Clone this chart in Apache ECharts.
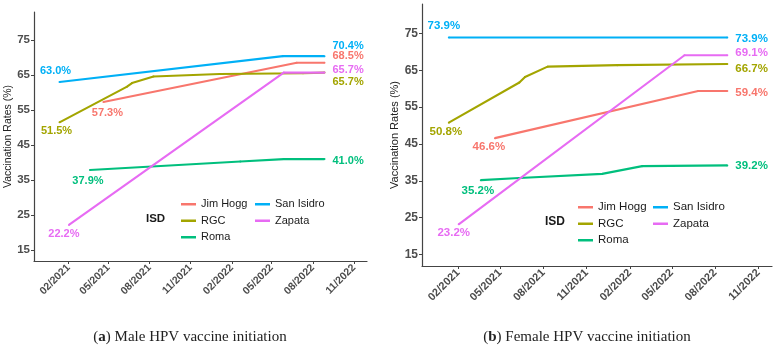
<!DOCTYPE html>
<html>
<head>
<meta charset="utf-8">
<script src="https://cdn.jsdelivr.net/npm/echarts@6/dist/echarts.min.js"></script>
<style>
html,body{margin:0;padding:0;background:#fff;}
#c{width:776px;height:354px;}
</style>
</head>
<body>
<div id="c"></div>
<script>
// ---------- DATA ----------
const isdNames = ['Jim Hogg', 'RGC', 'Roma', 'San Isidro', 'Zapata'];
const yTicks = [15, 25, 35, 45, 55, 65, 75];
const xTickDates = ['2021-02-01','2021-05-01','2021-08-01','2021-11-01','2022-02-01','2022-05-01','2022-08-01','2022-11-01'];

// Male HPV vaccine initiation (panel a): [date, rate %]
const maleJimHogg   = [['2021-04-20', 57.3], ['2022-06-26', 68.5], ['2022-08-27', 68.5]];
const maleRGC       = [['2021-01-12', 51.5], ['2021-06-11', 61.6], ['2021-06-23', 62.7], ['2021-08-10', 64.6], ['2022-01-05', 65.3], ['2022-07-10', 65.5], ['2022-08-27', 65.7]];
const maleRoma      = [['2021-03-21', 37.9], ['2022-02-20', 40.3], ['2022-05-28', 41.0], ['2022-08-27', 41.0]];
const maleSanIsidro = [['2021-01-12', 63.0], ['2022-05-26', 70.4], ['2022-08-27', 70.4]];
const maleZapata    = [['2021-02-02', 22.2], ['2022-05-28', 65.7], ['2022-08-27', 65.7]];

// Female HPV vaccine initiation (panel b)
const femaleJimHogg   = [['2021-04-20', 46.6], ['2022-06-26', 59.4], ['2022-08-27', 59.4]];
const femaleRGC       = [['2021-01-12', 50.8], ['2021-06-11', 61.7], ['2021-06-23', 63.2], ['2021-08-10', 66.0], ['2022-01-05', 66.4], ['2022-08-27', 66.7]];
const femaleRoma      = [['2021-03-21', 35.2], ['2021-06-11', 35.8], ['2021-12-04', 36.9], ['2022-02-27', 39.0], ['2022-08-27', 39.2]];
const femaleSanIsidro = [['2021-01-12', 73.9], ['2022-08-27', 73.9]];
const femaleZapata    = [['2021-02-02', 23.2], ['2022-05-28', 69.1], ['2022-08-27', 69.1]];

const captionA = 'Male HPV vaccine initiation';
const captionB = 'Female HPV vaccine initiation';
const legendTitle = 'ISD';
const yAxisName = 'Vaccination Rates (%)';

// ---------- STYLE ----------
const colors = {'Jim Hogg':'#F8766D','RGC':'#A3A500','Roma':'#00BF7D','San Isidro':'#00B0F6','Zapata':'#E76BF3'};
const labelStyle = [
  { fs: 11,
    start: {'Jim Hogg':[4,11],'RGC':[-3,9],'Roma':[-2,11],'San Isidro':[-4,-11],'Zapata':[-5,9]},
    end:   {'Jim Hogg':-7,'RGC':9,'Roma':2,'San Isidro':-10,'Zapata':-3} },
  { fs: 11.5,
    start: {'Jim Hogg':[-6,9],'RGC':[-3,9],'Roma':[-3,11],'San Isidro':[-5,-12],'Zapata':[-5,8]},
    end:   {'Jim Hogg':2,'RGC':5,'Roma':0,'San Isidro':1,'Zapata':-2} }
];

function ts(s){ const p = s.split('-'); return new Date(+p[0], +p[1]-1, +p[2]).getTime(); }
function fmtDate(v){ const d = new Date(v + 43200000); const m = d.getMonth()+1; return (m<10?'0':'')+m+'/'+d.getFullYear(); }

const panels = [
  [maleJimHogg, maleRGC, maleRoma, maleSanIsidro, maleZapata],
  [femaleJimHogg, femaleRGC, femaleRoma, femaleSanIsidro, femaleZapata]
];

const series = [];
panels.forEach((sets, gi) => {
  const st = labelStyle[gi];
  sets.forEach((pts, si) => {
    const name = isdNames[si];
    const col = colors[name];
    const data = pts.map((p, i) => {
      const item = { value: [ts(p[0]), p[1]] };
      if (i === 0) {
        item.label = { show: true, position: 'inside', offset: st.start[name] };
      } else if (i === pts.length - 1) {
        item.label = { show: true, position: 'right', distance: 7, offset: [0, st.end[name]] };
      }
      return item;
    });
    series.push({
      type: 'line', name: name, xAxisIndex: gi, yAxisIndex: gi,
      data: data, symbol: 'circle', symbolSize: 2, showSymbol: true,
      lineStyle: { color: col, width: 2.1 }, itemStyle: { color: col },
      label: { color: col, fontWeight: 'bold', fontSize: st.fs, fontFamily: 'Arial, Liberation Sans, sans-serif',
               formatter: (p) => p.value[1].toFixed(1) + '%' },
      emphasis: { disabled: true }, animation: false, silent: true, z: 2 + si
    });
  });
});

const xTickVals = xTickDates.map(ts);
function xAxis(gi, fs){
  return {
    type: 'value', gridIndex: gi, min: ts('2020-11-16'), max: ts('2022-11-30'),
    axisLine: { lineStyle: { color: '#444', width: 1.2 } },
    axisTick: { show: true, length: 3, lineStyle: { color: '#444' }, customValues: xTickVals },
    axisLabel: { customValues: xTickVals, formatter: fmtDate, rotate: 45, margin: 5,
                 color: '#4D4D4D', fontWeight: 'bold', fontSize: fs, fontFamily: 'Arial, Liberation Sans, sans-serif', hideOverlap: false },
    splitLine: { show: false }
  };
}
function yAxis(gi, fs){
  return {
    type: 'value', gridIndex: gi, min: 11.9, max: 83,
    name: yAxisName, nameLocation: 'middle', nameGap: 15,
    nameTextStyle: { color: '#222', fontSize: fs, fontFamily: 'Arial, Liberation Sans, sans-serif' },
    axisLine: { show: true, lineStyle: { color: '#444', width: 1.2 } },
    axisTick: { show: true, length: 3, lineStyle: { color: '#444' }, customValues: yTicks },
    axisLabel: { customValues: yTicks, margin: 4, color: '#4D4D4D', fontWeight: 'bold', fontSize: fs + 1,
                 fontFamily: 'Arial, Liberation Sans, sans-serif' },
    splitLine: { show: false }
  };
}

function legend(left, top, names, fs){
  return {
    left: left, top: top, orient: 'vertical', data: names,
    icon: 'rect', itemWidth: 15, itemHeight: 2.5, itemGap: 2,
    textStyle: { color: '#1a1a1a', fontSize: fs, lineHeight: 14.5, fontFamily: 'Arial, Liberation Sans, sans-serif' },
    selectedMode: false
  };
}

const option = {
  backgroundColor: '#fff',
  animation: false,
  grid: [
    { left: 34, top: 12, width: 333, height: 249, containLabel: false },
    { left: 422, top: 4, width: 350, height: 262, containLabel: false }
  ],
  xAxis: [xAxis(0, 10.5), xAxis(1, 11)],
  yAxis: [yAxis(0, 10.5), yAxis(1, 11)],
  legend: [
    legend(176, 192, isdNames.slice(0, 3), 11),
    legend(250, 192, isdNames.slice(3), 11),
    legend(573, 195, isdNames.slice(0, 3), 11.5),
    legend(648, 195, isdNames.slice(3), 11.5)
  ],
  series: series,
  graphic: [
    { type: 'text', left: 146, top: 213, style: { text: legendTitle, font: 'bold 11.5px Arial, Liberation Sans, sans-serif', fill: '#1a1a1a' } },
    { type: 'text', left: 545, top: 216, style: { text: legendTitle, font: 'bold 12px Arial, Liberation Sans, sans-serif', fill: '#1a1a1a' } },
    { type: 'text', x: 190, y: 337, style: { text: '({b|a}) ' + captionA, align: 'center', verticalAlign: 'middle',
        font: '15px "Liberation Serif", "DejaVu Serif", serif', fill: '#222',
        rich: { b: { fontWeight: 'bold', fontSize: 15, fontFamily: '"Liberation Serif", serif', fill: '#222' } } } },
    { type: 'text', x: 587, y: 337, style: { text: '({b|b}) ' + captionB, align: 'center', verticalAlign: 'middle',
        font: '15px "Liberation Serif", "DejaVu Serif", serif', fill: '#222',
        rich: { b: { fontWeight: 'bold', fontSize: 15, fontFamily: '"Liberation Serif", serif', fill: '#222' } } } }
  ]
};

const chart = echarts.init(document.getElementById('c'), null, { renderer: 'canvas' });
chart.setOption(option);
</script>
</body>
</html>
